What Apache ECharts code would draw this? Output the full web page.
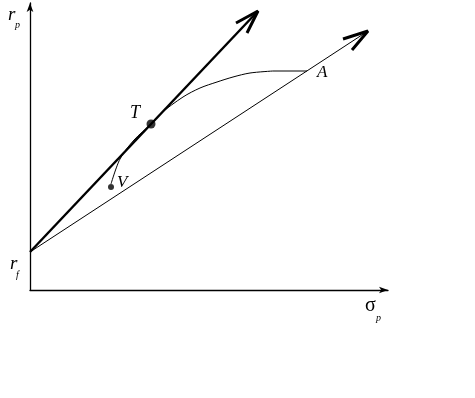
<!DOCTYPE html>
<html>
<head>
<meta charset="utf-8">
<script src="https://cdn.jsdelivr.net/npm/echarts@6/dist/echarts.min.js"></script>
<style>
  html, body { margin: 0; padding: 0; background: #fff; }
  #main { width: 475px; height: 398px; }
</style>
</head>
<body>
<div id="main"></div>
<script>
// values (x = sigma_p, y = r_p, arbitrary units)
const riskFree = [0, 38];
const cmlTip = [228, 279];
const cmlHead = [[206, 267], [228, 279], [217, 257]];
const lowTip = [338, 259];
const lowHead = [[313, 251], [338, 259], [322, 240]];
const frontier = [[81, 106], [90, 131], [104, 150], [121, 166], [130, 176], [153, 193],
  [170, 202], [187, 208], [203, 213], [220, 217], [243, 219]];
const frontierFlat = [[243, 219], [277, 219]];
const tangency = [121, 166];
const minVar = [81, 103];

const chart = echarts.init(document.getElementById('main'));
const serif = 'Liberation Serif';

const option = {
  animation: false,
  grid: { left: 30, right: 87, top: 3, bottom: 108 },
  xAxis: {
    type: 'value', min: 0, max: 358,
    axisLine: { lineStyle: { color: '#000', width: 1.3 }, symbol: ['none', 'arrow'], symbolSize: [5, 9] },
    axisTick: { show: false }, axisLabel: { show: false }, splitLine: { show: false }
  },
  yAxis: {
    type: 'value', min: 0, max: 287,
    axisLine: { onZero: false, lineStyle: { color: '#000', width: 1.3 }, symbol: ['none', 'arrow'], symbolSize: [5, 9] },
    axisTick: { show: false }, axisLabel: { show: false }, splitLine: { show: false }
  },
  series: [
    { type: 'line', data: frontier, symbol: 'none', smooth: 0.3, lineStyle: { color: '#000', width: 1 } },
    { type: 'line', data: frontierFlat, symbol: 'none', lineStyle: { color: '#000', width: 1 } },
    { type: 'line', data: [riskFree, cmlTip], symbol: 'none', lineStyle: { color: '#000', width: 2.4 } },
    { type: 'line', data: cmlHead, symbol: 'none', lineStyle: { color: '#000', width: 3 } },
    { type: 'line', data: [riskFree, lowTip], symbol: 'none', lineStyle: { color: '#000', width: 1 } },
    { type: 'line', data: lowHead, symbol: 'none', lineStyle: { color: '#000', width: 3 } },
    { type: 'scatter', data: [tangency], symbolSize: 9, itemStyle: { color: '#000' } },
    { type: 'scatter', data: [minVar], symbolSize: 6, itemStyle: { color: '#000' } }
  ],
  graphic: [
    { type: 'text', left: 8, top: 5, style: { text: 'r', fontFamily: serif, fontStyle: 'italic', fontSize: 19, fill: '#000' } },
    { type: 'text', left: 15, top: 20, style: { text: 'p', fontFamily: serif, fontStyle: 'italic', fontSize: 10, fill: '#000' } },
    { type: 'text', left: 10, top: 254, style: { text: 'r', fontFamily: serif, fontStyle: 'italic', fontSize: 19, fill: '#000' } },
    { type: 'text', left: 16, top: 270, style: { text: 'f', fontFamily: serif, fontStyle: 'italic', fontSize: 10, fill: '#000' } },
    { type: 'text', left: 365, top: 296, style: { text: 'σ', fontFamily: serif, fontSize: 20, fill: '#000' } },
    { type: 'text', left: 376, top: 313, style: { text: 'p', fontFamily: serif, fontStyle: 'italic', fontSize: 10, fill: '#000' } },
    { type: 'text', left: 130, top: 104, style: { text: 'T', fontFamily: serif, fontStyle: 'italic', fontSize: 18, fill: '#000' } },
    { type: 'text', left: 117, top: 174, style: { text: 'V', fontFamily: serif, fontStyle: 'italic', fontSize: 17, fill: '#000' } },
    { type: 'text', left: 317, top: 64, style: { text: 'A', fontFamily: serif, fontStyle: 'italic', fontSize: 17, fill: '#000' } }
  ]
};

chart.setOption(option);
</script>
</body>
</html>
